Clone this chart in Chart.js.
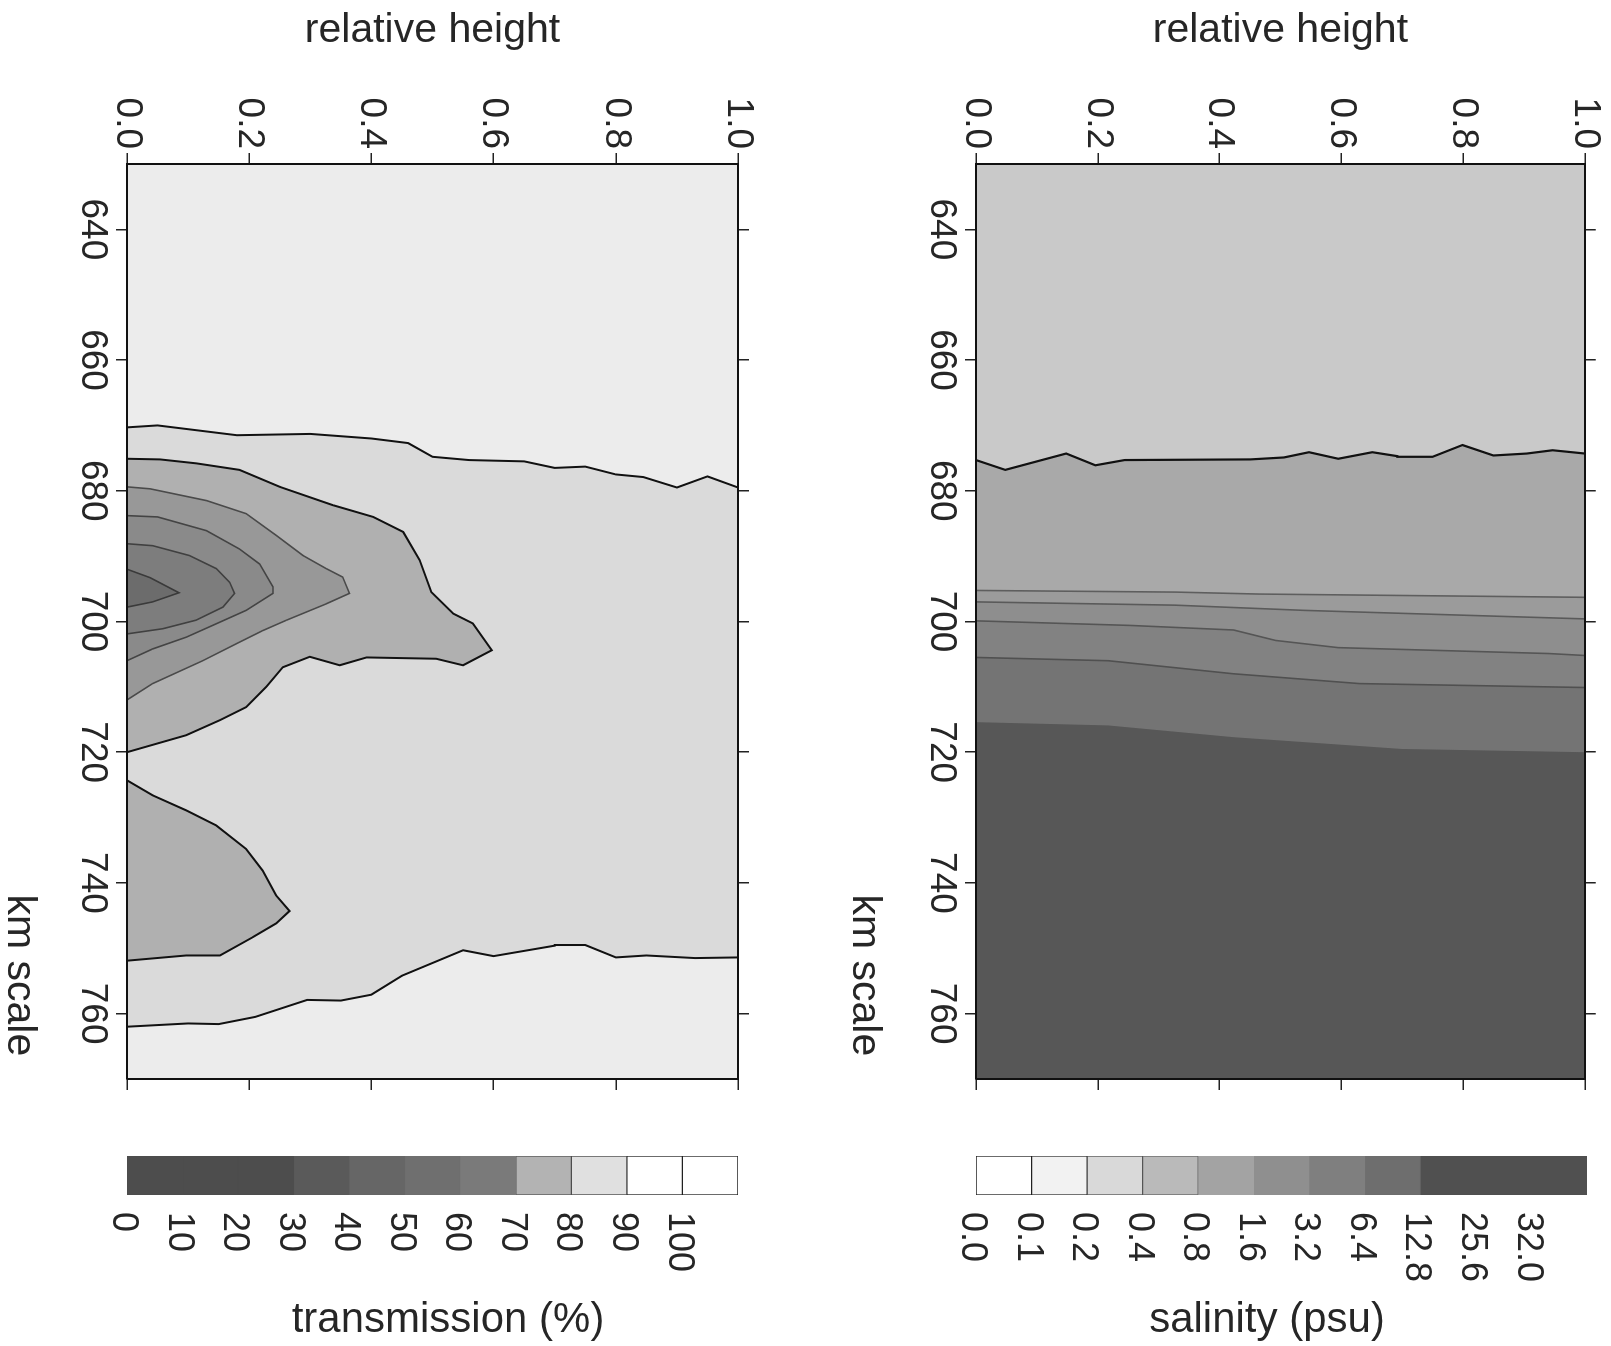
<!DOCTYPE html>
<html>
<head>
<meta charset="utf-8">
<script src="https://cdn.jsdelivr.net/npm/chart.js@4.4.1/dist/chart.umd.min.js"></script>
<style>
  html, body { margin: 0; padding: 0; background: #fff; }
  body { width: 1611px; height: 1346px; overflow: hidden; position: relative; }
  /* the figure is laid out upright and turned a quarter turn clockwise */
  #fig { position: absolute; left: 0; top: 0; width: 1346px; height: 1611px;
         transform-origin: 0 0; transform: translate(1611px, 0) rotate(90deg); }
  #fig canvas { position: absolute; }
</style>
</head>
<body>
<div id="fig">
  <canvas id="salPlot"   width="1110" height="780" style="left:0;top:0"></canvas>
  <canvas id="transPlot" width="1110" height="836" style="left:0;top:780px"></canvas>
  <canvas id="salBar"    width="206"  height="691" style="left:1140px;top:-16px"></canvas>
  <canvas id="transBar"  width="206"  height="724" style="left:1140px;top:800px"></canvas>
  <canvas id="salTitle"   width="53" height="600" style="left:1295px;top:44px"></canvas>
  <canvas id="transTitle" width="53" height="600" style="left:1295px;top:863px"></canvas>
</div>
<script>
// Along-channel sections: salinity and transmission vs km and relative height

// axes
const kmRange = [630, 770];
const heightRange = [0, 1];
const kmTicks = [640, 660, 680, 700, 720, 740, 760];
const heightTicks = [0, 0.2, 0.4, 0.6, 0.8, 1.0];
const heightTickLabels = ['0.0', '0.2', '0.4', '0.6', '0.8', '1.0'];

// colour classes
const transLevels = ['0', '10', '20', '30', '40', '50', '60', '70', '80', '90', '100'];
const transColors = ['#4d4d4d', '#4d4d4d', '#4d4d4d', '#5a5a5a', '#666666', '#6f6f6f', '#7a7a7a', '#b3b3b3', '#e0e0e0', '#ffffff', '#ffffff'];
const transEdges  = ['#4d4d4d', '#4d4d4d', '#4d4d4d', '#5a5a5a', '#666666', '#6f6f6f', '#7a7a7a', '#555555', '#444444', '#222222', '#222222'];
const salLevels = ['0.0', '0.1', '0.2', '0.4', '0.8', '1.6', '3.2', '6.4', '12.8', '25.6', '32.0'];
const salColors = ['#ffffff', '#f2f2f2', '#d9d9d9', '#bababa', '#a3a3a3', '#8f8f8f', '#7f7f7f', '#6e6e6e', '#505050', '#505050', '#505050'];
const salEdges  = ['#222222', '#333333', '#555555', '#666666', '#a3a3a3', '#8f8f8f', '#7f7f7f', '#6e6e6e', '#505050', '#505050', '#505050'];

// transmission contours, [km, relative height]
const transLineTop = [[670.3, 0], [670.0, 0.05], [671.5, 0.18], [671.3, 0.30], [672.0, 0.40], [672.7, 0.46],
  [674.8, 0.50], [675.3, 0.56], [675.5, 0.65], [676.5, 0.70], [676.3, 0.75], [677.5, 0.80], [677.9, 0.845],
  [679.5, 0.90], [677.8, 0.95], [679.5, 1.0]];
const transLineBottom = [[762.0, 0], [761.5, 0.10], [761.6, 0.15], [760.5, 0.21], [757.9, 0.295], [758.0, 0.35],
  [757.1, 0.40], [754.2, 0.45], [750.3, 0.55], [751.2, 0.60], [749.6, 0.70], [749.5, 0.75], [751.4, 0.80],
  [751.1, 0.85], [751.5, 0.93], [751.4, 1.0]];
const trans70 = [[675.1, 0], [675.2, 0.054], [675.8, 0.113], [676.8, 0.184], [679.4, 0.25], [682.2, 0.337],
  [684.0, 0.403], [686.3, 0.452], [690.6, 0.479], [695.5, 0.498], [698.8, 0.534], [700.3, 0.566], [704.4, 0.597],
  [706.7, 0.55], [705.7, 0.506], [705.5, 0.392], [706.7, 0.348], [705.4, 0.299], [707.0, 0.255], [710.0, 0.228],
  [713.1, 0.195], [715.1, 0.152], [717.4, 0.097], [720.0, 0]];
const trans70Low = [[724.3, 0], [726.6, 0.042], [728.9, 0.097], [731.2, 0.146], [734.8, 0.195], [738.1, 0.222],
  [741.9, 0.244], [744.3, 0.266], [746.2, 0.244], [748.3, 0.206], [751.1, 0.152], [751.1, 0.097], [751.9, 0]];
const trans60 = [[679.4, 0], [679.7, 0.038], [681.5, 0.13], [683.5, 0.195], [686.8, 0.244], [689.9, 0.288],
  [691.9, 0.326], [693.2, 0.353], [695.7, 0.364], [697.3, 0.326], [699.8, 0.261], [701.4, 0.222], [703.4, 0.179],
  [706.0, 0.124], [709.5, 0.042], [712.0, 0]];
const trans50 = [[683.8, 0], [684.0, 0.05], [686.1, 0.13], [688.9, 0.184], [691.2, 0.217], [694.7, 0.239],
  [695.7, 0.239], [698.3, 0.195], [700.1, 0.152], [702.4, 0.097], [704.2, 0.042], [706.0, 0]];
const trans40 = [[688.1, 0], [688.4, 0.042], [689.9, 0.102], [691.9, 0.146], [694.0, 0.168], [695.7, 0.176],
  [697.8, 0.157], [699.8, 0.113], [701.1, 0.059], [701.9, 0]];
const trans30 = [[692.0, 0], [693.3, 0.038], [695.6, 0.085], [697.0, 0.042], [697.8, 0]];

// salinity contours, [km, relative height]
const salFront = [[675.3, 0], [676.8, 0.048], [674.3, 0.148], [676.1, 0.196], [675.3, 0.244], [675.2, 0.451],
  [674.9, 0.506], [674.1, 0.547], [675.1, 0.595], [674.1, 0.651], [674.7, 0.692], [674.8, 0.75], [673.0, 0.799],
  [674.6, 0.85], [674.3, 0.905], [673.8, 0.947], [674.3, 1.0]];
const sal08 = [[695.25, 0], [695.5, 0.327], [695.8, 0.464], [696.3, 1]];
const sal16 = [[697.0, 0], [697.5, 0.327], [698.3, 0.54], [699.6, 1]];
const sal32 = [[699.9, 0], [700.6, 0.253], [701.3, 0.423], [702.9, 0.492], [704.0, 0.595], [704.9, 0.94], [705.2, 1]];
const sal64 = [[705.5, 0], [706.0, 0.217], [708.0, 0.423], [709.5, 0.63], [710.1, 1]];
const sal128 = [[715.4, 0], [715.9, 0.217], [717.7, 0.423], [719.5, 0.699], [720.0, 1]];

Chart.defaults.font.family = "'Liberation Sans', Arial, Helvetica, sans-serif";
Chart.defaults.color = '#262626';

const toPts = arr => arr.map(p => ({ x: p[0], y: p[1] }));
const plotRect = [[kmRange[0], heightRange[0]], [kmRange[1], heightRange[0]], [kmRange[1], heightRange[1]], [kmRange[0], heightRange[1]]];
const belowCorners = [[kmRange[1], heightRange[1]], [kmRange[1], heightRange[0]]];

function area(points, color) {
    return { data: toPts(points), showLine: true, fill: 'shape', backgroundColor: color,
             borderWidth: 0, borderColor: 'rgba(0,0,0,0)', pointRadius: 0, tension: 0 };
}
function contour(points, color, width) {
    return { data: toPts(points), showLine: true, fill: false, borderColor: color,
             borderWidth: width, pointRadius: 0, tension: 0 };
}
function blob(points, fillColor, lineColor, width) {
    return { data: toPts(points), showLine: true, fill: 'shape', backgroundColor: fillColor, borderColor: lineColor,
             borderWidth: width, pointRadius: 0, tension: 0 };
}

function panelOptions(topHeight, bottomHeight, rightWidth, kmTitlePad) {
    const tickGrid = { drawOnChartArea: false, drawTicks: true, tickLength: 11, color: '#222', lineWidth: 1.5 };
    const frame = { display: true, color: '#111', width: 2, z: 1 };
    const setKm = s => { s.ticks = kmTicks.map(v => ({ value: v })); };
    const setH = s => { s.ticks = heightTicks.map(v => ({ value: v })); };
    return {
        responsive: false,
        animation: false,
        events: [],
        layout: { padding: 0 },
        plugins: { legend: { display: false }, tooltip: { enabled: false } },
        scales: {
            x: {
                type: 'linear', position: 'bottom', min: kmRange[0], max: kmRange[1],
                afterBuildTicks: setKm,
                afterFit: s => { s.height = bottomHeight; },
                ticks: { font: { size: 37 }, padding: 2, maxRotation: 0, autoSkip: false,
                         callback: (v, i) => String(kmTicks[i]) },
                grid: tickGrid, border: frame,
                title: { display: true, text: 'km scale  ', align: 'end', font: { size: 41 },
                         padding: { top: 0, bottom: kmTitlePad } }
            },
            x2: {
                type: 'linear', position: 'top', min: kmRange[0], max: kmRange[1],
                afterBuildTicks: setKm,
                afterFit: s => { s.height = topHeight; },
                ticks: { display: false }, grid: tickGrid, border: frame
            },
            y: {
                type: 'linear', position: 'left', min: heightRange[0], max: heightRange[1],
                afterBuildTicks: setH,
                afterFit: s => { s.width = 164; },
                ticks: { font: { size: 37 }, padding: 4, autoSkip: false,
                         callback: (v, i) => heightTickLabels[i] },
                grid: tickGrid, border: frame,
                title: { display: true, text: 'relative height', font: { size: 41 },
                         padding: { top: 6, bottom: 0 } }
            },
            y2: {
                type: 'linear', position: 'right', min: heightRange[0], max: heightRange[1],
                afterBuildTicks: setH,
                afterFit: s => { s.width = rightWidth; },
                ticks: { display: false }, grid: tickGrid, border: frame
            }
        }
    };
}

function withOrder(datasets) {
    // first in the list is painted first (underneath)
    return datasets.map((d, i) => Object.assign(d, { order: datasets.length - i }));
}

// salinity panel
const salDatasets = withOrder([
    area(plotRect, '#c9c9c9'),
    area(salFront.concat(belowCorners), '#a9a9a9'),
    area(sal08.concat(belowCorners), '#9b9b9b'),
    area(sal16.concat(belowCorners), '#8e8e8e'),
    area(sal32.concat(belowCorners), '#828282'),
    area(sal64.concat(belowCorners), '#747474'),
    area(sal128.concat(belowCorners), '#575757'),
    contour(salFront, '#111', 2.2),
    contour(sal08, '#5e5e5e', 1.6),
    contour(sal16, '#5a5a5a', 1.6),
    contour(sal32, '#555555', 1.6),
    contour(sal64, '#505050', 1.6)
]);

new Chart(document.getElementById('salPlot'), {
    type: 'scatter',
    data: { datasets: salDatasets },
    options: panelOptions(24, 145, 31, 9)
});

// transmission panel
const transDatasets = withOrder([
    area(plotRect, '#ececec'),
    area(transLineTop.concat(transLineBottom.slice().reverse()), '#dadada'),
    contour(transLineTop, '#111', 2),
    contour(transLineBottom, '#111', 2),
    blob(trans70, '#b0b0b0', '#111', 2),
    blob(trans70Low, '#b0b0b0', '#111', 2),
    blob(trans60, '#989898', '#4a4a4a', 1.6),
    blob(trans50, '#8a8a8a', '#444444', 1.6),
    blob(trans40, '#7d7d7d', '#404040', 1.6),
    blob(trans30, '#6c6c6c', '#3a3a3a', 1.6)
]);

new Chart(document.getElementById('transPlot'), {
    type: 'scatter',
    data: { datasets: transDatasets },
    options: panelOptions(93, 132, 31, 0)
});

// colour bars
function colorBar(canvasId, levels, colors, edges, padTop, padBottom) {
    return new Chart(document.getElementById(canvasId), {
        type: 'bar',
        data: {
            labels: [''],
            datasets: colors.map((c, i) => ({
                data: [1], backgroundColor: c, borderColor: edges[i], borderWidth: 1,
                borderSkipped: false, barPercentage: 1, categoryPercentage: 1, stack: 'bar'
            }))
        },
        options: {
            responsive: false,
            animation: false,
            events: [],
            layout: { padding: { left: 16, top: padTop, bottom: padBottom, right: 0 } },
            plugins: { legend: { display: false }, tooltip: { enabled: false } },
            scales: {
                x: { stacked: true, display: false },
                y: {
                    stacked: true, position: 'right', min: 0, max: colors.length,
                    afterBuildTicks: s => { s.ticks = levels.map((l, i) => ({ value: i })); },
                    afterFit: s => { s.width = 151; },
                    ticks: { font: { size: 36 }, padding: 17, autoSkip: false, labelOffset: 4,
                             callback: (v, i) => levels[i] },
                    grid: { display: false, drawTicks: false },
                    border: { display: false }
                }
            }
        }
    });
}

colorBar('salBar', salLevels, salColors, salEdges, 40, 40);
colorBar('transBar', transLevels, transColors, transEdges, 73, 40);

// colour bar captions
function sideTitle(canvasId, text, size) {
    return new Chart(document.getElementById(canvasId), {
        type: 'scatter',
        data: { datasets: [] },
        options: {
            responsive: false,
            animation: false,
            events: [],
            plugins: {
                legend: { display: false },
                tooltip: { enabled: false },
                title: { display: true, position: 'left', text: text, font: { size: size, weight: 'normal' }, padding: 0 }
            },
            scales: { x: { display: false }, y: { display: false } }
        }
    });
}

sideTitle('salTitle', 'salinity (psu)', 42);
sideTitle('transTitle', 'transmission (%)', 42);
</script>
</body>
</html>
